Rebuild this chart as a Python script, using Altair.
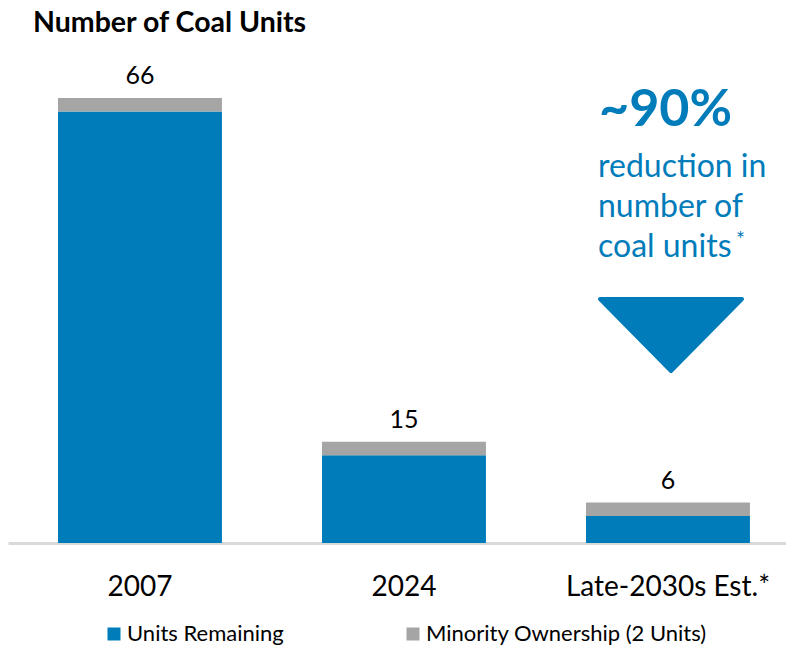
import altair as alt
import pandas as pd

# ---- data ----
categories = ["2007", "2024", "Late-2030s Est.*"]
units_remaining = [64, 13, 4]
minority_ownership = [2, 2, 2]
totals = [66, 15, 6]
series_names = ["Units Remaining", "Minority Ownership (2 Units)"]
headline = "~90%"
note_lines = ["reduction in", "number of", "coal units"]
footnote_mark = "*"
chart_title = "Number of Coal Units"

BLUE = "#007CBA"
GRAY = "#A5A5A5"
FONT = "Lato"

rows = []
for c, u, m in zip(categories, units_remaining, minority_ownership):
    rows.append({"period": c, "series": series_names[0], "units": u, "order": 0})
    rows.append({"period": c, "series": series_names[1], "units": m, "order": 1})
bars_df = pd.DataFrame(rows)
totals_df = pd.DataFrame({"period": categories, "total": totals})
one = pd.DataFrame({"k": [0]})

y_scale = alt.Scale(domain=[0, 73.4], nice=False, zero=True)
x_scale = alt.Scale(paddingInner=0.379, paddingOuter=0.163, align=0.581)

x_enc = alt.X(
    "period:N",
    sort=categories,
    scale=x_scale,
    axis=alt.Axis(
        title=None, labelAngle=0, labelFont=FONT, labelFontSize=28,
        labelColor="#000000", labelPadding=30, ticks=False, tickSize=0,
        labelLimit=0, domainColor="#D9D9D9", domainWidth=3, grid=False,
    ),
)

bars = alt.Chart(bars_df).mark_bar(strokeWidth=0).encode(
    x=x_enc,
    y=alt.Y("units:Q", stack="zero", scale=y_scale, axis=None),
    color=alt.Color(
        "series:N",
        scale=alt.Scale(domain=series_names, range=[BLUE, GRAY]),
        legend=alt.Legend(
            title=None, orient="none", legendX=95, legendY=575,
            direction="horizontal", symbolType="square", symbolSize=169,
            symbolStrokeWidth=0, labelFont=FONT, labelFontSize=22,
            labelColor="#000000", labelOffset=2, columnPadding=118, padding=0,
            labelLimit=0,
        ),
    ),
    order=alt.Order("order:Q"),
)

value_labels = alt.Chart(totals_df).mark_text(
    font=FONT, fontSize=25, color="#000000", baseline="alphabetic", dy=-14
).encode(
    x=alt.X("period:N", sort=categories),
    y=alt.Y("total:Q", scale=y_scale),
    text="total:Q",
)

headline_text = alt.Chart(one).mark_text(
    font=FONT, fontSize=52, fontWeight="bold", color=BLUE,
    align="left", baseline="alphabetic", text=headline,
).encode(x=alt.value(591), y=alt.value(78))

note_text = alt.Chart(one).mark_text(
    font=FONT, fontSize=32, color=BLUE, align="left",
    baseline="alphabetic", lineHeight=40, text=note_lines,
).encode(x=alt.value(590), y=alt.value(129))

star_text = alt.Chart(one).mark_text(
    font=FONT, fontSize=21, color=BLUE, align="left",
    baseline="alphabetic", text=footnote_mark,
).encode(x=alt.value(728), y=alt.value(199))

arrow = alt.Chart(one).mark_point(
    shape="M-1,-0.507L1,-0.507L0,0.507Z", filled=True, size=20164,
    color=BLUE, opacity=1, stroke=BLUE, strokeWidth=4, strokeJoin="round",
).encode(x=alt.value(663), y=alt.value(287))

chart = alt.layer(
    bars, value_labels, headline_text, note_text, star_text, arrow
).properties(
    width=778,
    height=495,
    autosize=alt.AutoSizeParams(type="none"),
    padding={"left": 0, "top": 40, "right": 0, "bottom": 104},
    title=alt.TitleParams(
        chart_title, anchor="start", dx=25, font=FONT, fontSize=28.5,
        fontWeight="bold", color="#000000", offset=11,
    ),
).configure(background="white").configure_view(stroke=None, strokeWidth=0)

chart.save("out.html", embed_options={"renderer": "svg", "actions": False})
